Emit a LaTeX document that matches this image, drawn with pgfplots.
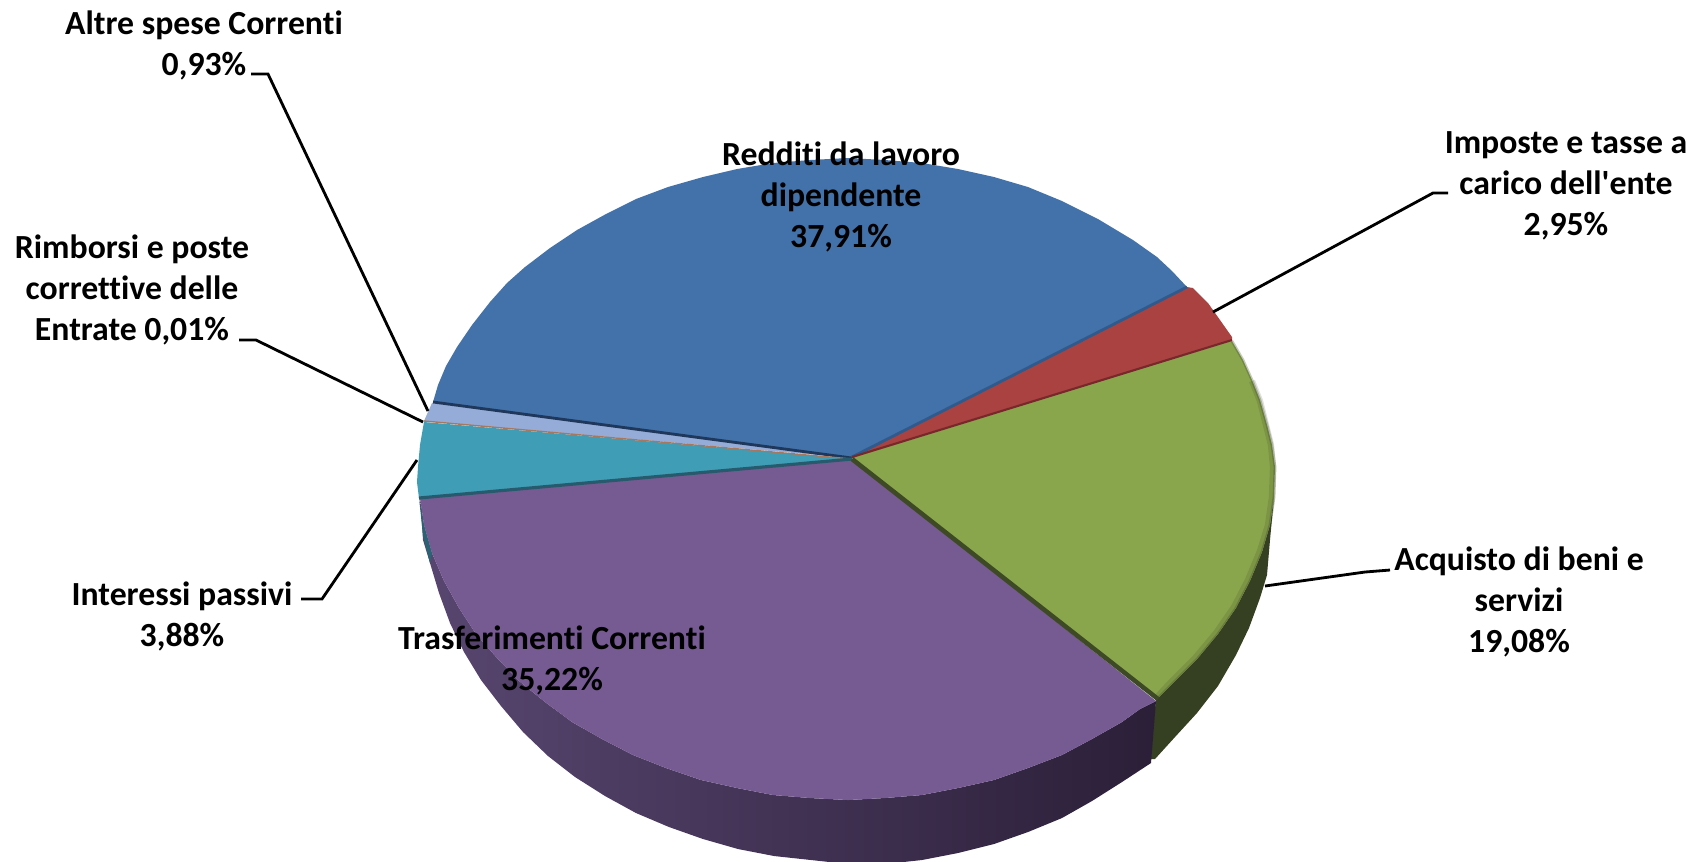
\documentclass[border=0pt]{standalone}
\usepackage{fontspec}
\setmainfont{Carlito}
\newfontfamily\lblfont[Ligatures=NoCommon]{Carlito}
\usepackage{pgfplots}
\pgfplotsset{compat=1.18}

\definecolor{blueTop}{HTML}{4272A9}
\definecolor{redTop}{HTML}{A94240}
\definecolor{greenTop}{HTML}{8AA64D}
\definecolor{purpleTop}{HTML}{765A92}
\definecolor{tealTop}{HTML}{3F9DB5}
\definecolor{skyTop}{HTML}{96ACD8}
\definecolor{greenSide}{HTML}{353F21}
\definecolor{purpleL}{RGB}{88,70,112}
\definecolor{purpleM}{RGB}{54,40,68}
\definecolor{purpleR}{RGB}{43,31,56}

\tikzset{
    leader/.style={black, line width=0.8pt, line join=miter},
    lbl/.style={font=\lblfont\fontsize{9.6}{11.7}\selectfont\bfseries, align=center, text=black, inner sep=0pt},
}

\begin{document}
\begin{tikzpicture}
\begin{axis}[
    name=pie,
    scale only axis,
    width=16.99cm,
    height=8.61cm,
    xmin=0, xmax=1699,
    ymin=0, ymax=861,
    y dir=reverse,
    hide axis,
    clip=true,
]
    % sides
    \addplot[fill=greenSide, draw=none] coordinates {
        (1274,497) (1270,540) (1267,575) (1260,598) (1249,628) (1236,655) (1218,686) (1197,713)
        (1175,737) (1155,759) (1150,759) (1156,699)
        (1158,698) (1175,681) (1198,658) (1218,634) (1236,608) (1250,581) (1262,552) (1270,525)
    } --cycle;
    \addplot[draw=none, shade, left color=purpleL, middle color=purpleM, right color=purpleR] coordinates {
        (420,496) (424,525) (432,553) (444,581) (459,608) (476,634) (497,658) (519,681) (545,702)
        (572,722) (602,739) (633,755) (666,768) (701,780) (737,788) (773,795) (810,798) (848,800)
        (885,798) (922,795) (958,788) (994,780) (1028,768) (1062,755) (1092,739) (1122,722)
        (1140,709) (1156,701)
        (1151,763) (1122,782) (1092,801) (1062,818) (1028,832) (994,844) (958,853) (922,860)
        (885,864) (848,864) (774,856) (738,849) (703,839) (669,827) (636,813) (605,796) (575,777)
        (548,756) (523,732) (501,706) (481,680) (464,652) (450,623) (439,593) (430,563) (423,540)
    } --cycle;
    \addplot[fill={rgb,255:red,40;green,100;blue,115}, draw=none] coordinates {
        (419,498) (423,535) (430,563) (432,553) (424,525)
    } --cycle;

    % top faces
    \addplot[fill=blueTop, draw=none] coordinates {
        (852,457) (433,402) (438,385) (446,366) (457,347) (472,325) (490,302) (507,283) (525,267)
        (550,248) (577,230) (606,214) (636,199) (668,187) (703,177) (737,169) (773,163) (810,160)
        (848,158) (885,160) (922,163) (958,169) (994,177) (1028,187) (1062,201) (1098,219)
        (1133,240) (1157,257) (1172,271) (1187,287)
    } --cycle;
    \addplot[fill=redTop, draw=none] coordinates {
        (852,457) (1187,287) (1193,288) (1208,303) (1220,320) (1232,337) (1232,341)
    } --cycle;
    \addplot[fill=greenTop, draw=none] coordinates {
        (852,457) (1232,341) (1243,360) (1252,380) (1260,400) (1267,425) (1272,445) (1275,467)
        (1274,497) (1270,525) (1262,552) (1250,581) (1236,608) (1218,634) (1198,658) (1175,681)
        (1158,698)
    } --cycle;
    \addplot[fill=purpleTop, draw=none] coordinates {
        (852,459) (1156,701) (1140,709) (1122,722) (1092,739) (1062,755) (1028,768) (994,780)
        (958,788) (922,795) (885,798) (848,800) (810,798) (773,795) (737,788) (701,780) (666,768)
        (633,755) (602,739) (572,722) (545,702) (519,681) (497,658) (476,634) (459,608) (444,581)
        (432,553) (424,525) (420,498)
    } --cycle;
    \addplot[fill=tealTop, draw=none] coordinates {
        (852,459) (419,498) (417,482) (418,467) (420,445) (424,422)
    } --cycle;
    \addplot[fill=skyTop, draw=none] coordinates {
        (852,458) (424,421) (432,403)
    } --cycle;

    % bevel on the green rim
    \addplot[greenSide, opacity=0.16, line width=1.8pt] coordinates {
        (1252,381) (1260,401) (1266,425) (1271,445) (1273,467) (1272,497) (1268,525) (1260,551)
        (1248,580) (1234,607) (1216,633) (1196,657) (1173,680) (1158,696)
    };
    \addplot[greenSide, opacity=0.28, line width=0.8pt] coordinates {
        (1232,341) (1243,360) (1252,380) (1260,400) (1267,425) (1272,445) (1275,467)
        (1274,497) (1270,525) (1262,552) (1250,581) (1236,608) (1218,634) (1198,658) (1175,681)
        (1158,698)
    };

    % dark seams between the slices
    \addplot[color={rgb,255:red,30;green,55;blue,90}, line width=0.8pt] coordinates {(433,402) (852,458)};
    \addplot[color={rgb,255:red,48;green,90;blue,140}, line width=0.8pt] coordinates {(1187,287) (852,457)};
    \addplot[color={rgb,255:red,120;green,40;blue,42}, line width=0.6pt] coordinates {(1232,340) (852,457)};
    \addplot[color={rgb,255:red,165;green,120;blue,95}, line width=0.4pt] coordinates {(424,421) (852,459)};
    \addplot[color={rgb,255:red,40;green,90;blue,110}, line width=0.9pt] coordinates {(419,498) (852,459)};
    \addplot[color={rgb,255:red,62;green,74;blue,38}, line width=1.3pt] coordinates {(852,459) (1158,699)};

    % leader lines
    \addplot[leader] coordinates {(251,74) (268,74) (428,411)};
    \addplot[leader] coordinates {(239,340) (256,340) (423,422)};
    \addplot[leader] coordinates {(301,599) (322,599) (417,460)};
    \addplot[leader] coordinates {(1448,193) (1433,193) (1213,312)};
    \addplot[leader] coordinates {(1390,570) (1365,572) (1265,586)};

    % labels
    \node[lbl] at (axis cs:204,45) {Altre spese Correnti\\0,93\%};
    \node[lbl] at (axis cs:841,197) {Redditi da lavoro\\dipendente\\37,91\%};
    \node[lbl] at (axis cs:1566,186) {Imposte e tasse a\\carico dell'ente\\2,95\%};
    \node[lbl] at (axis cs:132,290) {Rimborsi e poste\\correttive delle\\Entrate 0,01\%};
    \node[lbl] at (axis cs:182,616) {Interessi passivi\\3,88\%};
    \node[lbl] at (axis cs:552,660) {Trasferimenti Correnti\\35,22\%};
    \node[lbl] at (axis cs:1519,602) {Acquisto di beni e\\servizi\\19,08\%};
\end{axis}
\pgfresetboundingbox
\path[use as bounding box] (pie.south west) rectangle (pie.north east);
\end{tikzpicture}
\end{document}
